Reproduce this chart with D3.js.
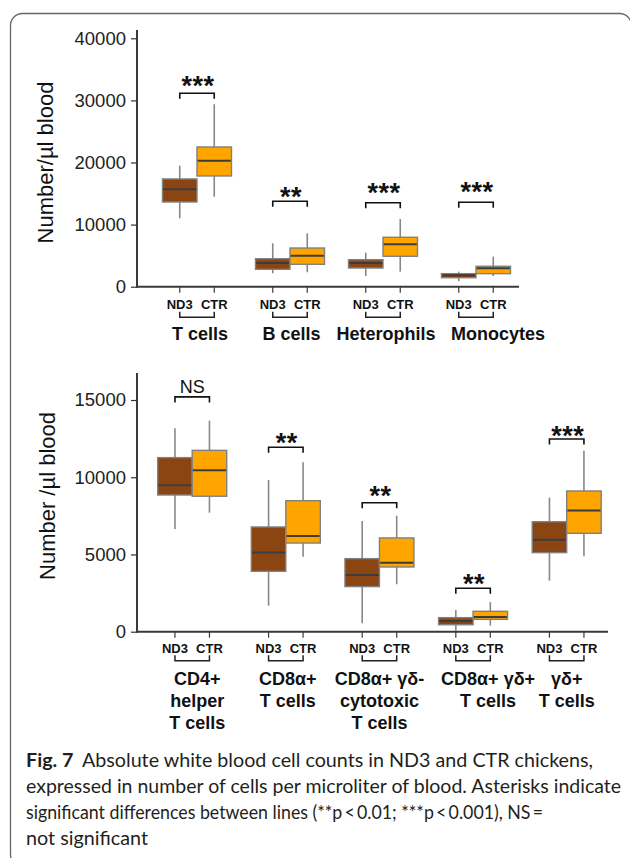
<!DOCTYPE html>
<html>
<head>
<meta charset="utf-8">
<script src="https://cdn.jsdelivr.net/npm/d3@7"></script>
<style>
  html, body { margin: 0; padding: 0; background: #fff; }
  svg { display: block; }
</style>
</head>
<body>
<svg id="chart" width="630" height="858"></svg>
<script>
// ---------------- DATA ----------------
const lineNames = ["ND3", "CTR"];

// Top panel
const topCategories = ["T cells", "B cells", "Heterophils", "Monocytes"];
// [whisker low, Q1, median, Q3, whisker high]
const topND3 = [
  [11020, 13640, 15690, 17350, 19490],
  [2160, 2800, 3820, 4510, 6990],
  [1720, 3010, 3820, 4350, 5480],
  [920, 1450, 1840, 2100, 2420]
];
const topCTR = [
  [14500, 17830, 20300, 22500, 29380],
  [2320, 3610, 4990, 6230, 8600],
  [2420, 4900, 6830, 7960, 10900],
  [1720, 2100, 2960, 3290, 4830]
];
const topSig = ["***", "**", "***", "***"];
const topBracketValue = [31150, 13760, 13530, 13600];
const topSigTextValue = [30800, 12950, 13670, 13770];
const topTicks = [0, 10000, 20000, 30000, 40000];

// Bottom panel
const bottomCategories = [
  ["CD4+", "helper", "T cells"],
  ["CD8\u03b1+", "T cells"],
  ["CD8\u03b1+ \u03b3\u03b4-", "cytotoxic", "T cells"],
  ["CD8\u03b1+ \u03b3\u03b4+", "T cells"],
  ["\u03b3\u03b4+", "T cells"]
];
const bottomND3 = [
  [6650, 8850, 9480, 11270, 13170],
  [1690, 3910, 5120, 6780, 9820],
  [540, 2920, 3670, 4730, 7170],
  [60, 450, 690, 910, 1400],
  [3300, 5120, 5960, 7120, 8680]
];
const bottomCTR = [
  [7710, 8770, 10450, 11740, 13660],
  [4860, 5740, 6200, 8480, 10970],
  [3070, 4190, 4470, 6070, 7510],
  [390, 800, 950, 1320, 1920],
  [4880, 6370, 7840, 9110, 11720]
];
const bottomSig = ["NS", "**", "**", "**", "***"];
const bottomBracketValue = [15200, 11940, 8350, 2810, 12480];
const bottomSigTextValue = [15475, 11660, 8200, 2520, 12100];
const bottomTicks = [0, 5000, 10000, 15000];

const captionBold = "Fig. 7";
const captionLines = [
  "Absolute white blood cell counts in ND3 and CTR chickens,",
  "expressed in number of cells per microliter of blood. Asterisks indicate",
  "significant differences between lines (**p\u2009<\u20090.01; ***p\u2009<\u20090.001), NS\u2009=",
  "not significant"
];

// ---------------- DRAW ----------------
const svg = d3.select("#chart");
const FONT = "'Liberation Sans', Arial, Helvetica, sans-serif";
const colors = { ND3: "#8B4513", CTR: "#FFA500" };

// frame
svg.append("rect")
  .attr("x", 10.5).attr("y", 13.5)
  .attr("width", 621).attr("height", 853)
  .attr("rx", 12).attr("ry", 12)
  .attr("fill", "none").attr("stroke", "#666").attr("stroke-width", 1.3);

function drawPanel(cfg) {
  const g = svg.append("g");
  const y = d3.scaleLinear().domain(cfg.domain).range([cfg.y0, cfg.y1]);
  const x = d3.scaleBand().domain(d3.range(cfg.n)).range(cfg.xRange).paddingInner(0).paddingOuter(0);
  const sub = d3.scalePoint().domain(lineNames).range([-cfg.half, cfg.half]);
  const cx = (i, ln) => x(i) + x.bandwidth() / 2 + sub(ln);
  const boxW = cfg.half * 2;

  // y axis
  const yAxis = d3.axisLeft(y).tickValues(cfg.ticks).tickSize(6).tickPadding(5).tickFormat(d3.format("d"));
  const ya = g.append("g").attr("transform", `translate(${cfg.axisX},0)`).call(yAxis);
  ya.select(".domain").remove();
  ya.selectAll(".tick line").attr("stroke", "#333").attr("stroke-width", 1.2);
  ya.selectAll(".tick text").attr("font-family", FONT).attr("font-size", 18.5).attr("fill", "#222");
  g.append("line")
    .attr("x1", cfg.axisX).attr("x2", cfg.axisX)
    .attr("y1", cfg.axisTop).attr("y2", y(0) + 1)
    .attr("stroke", "#3a3a3a").attr("stroke-width", 2);
  // x axis baseline
  g.append("line")
    .attr("x1", cfg.axisX - 1).attr("x2", cfg.axisRight)
    .attr("y1", y(0)).attr("y2", y(0))
    .attr("stroke", "#3a3a3a").attr("stroke-width", 2);

  // y label
  g.append("text")
    .attr("transform", `translate(${cfg.labelX},${cfg.labelY}) rotate(-90)`)
    .attr("text-anchor", "middle")
    .attr("font-family", FONT).attr("font-size", 22).attr("fill", "#111")
    .text(cfg.yLabel);

  const series = { ND3: cfg.nd3, CTR: cfg.ctr };
  for (let i = 0; i < cfg.n; i++) {
    lineNames.forEach(ln => {
      const c = cx(i, ln);
      g.append("line").attr("x1", c).attr("x2", c).attr("y1", y(0)).attr("y2", y(0) + 6)
        .attr("stroke", "#3a3a3a").attr("stroke-width", 1.2);
      g.append("text").attr("x", c).attr("y", cfg.tickLabelY)
        .attr("text-anchor", "middle").attr("font-family", FONT)
        .attr("font-weight", "bold").attr("font-size", 13).attr("fill", "#111")
        .text(ln);
    });
    lineNames.forEach(ln => {
      const s = series[ln][i];
      const c = cx(i, ln);
      g.append("line").attr("x1", c).attr("x2", c).attr("y1", y(s[0])).attr("y2", y(s[4]))
        .attr("stroke", "#888").attr("stroke-width", 1.6);
    });
    lineNames.forEach(ln => {
      const s = series[ln][i];
      const c = cx(i, ln);
      g.append("rect")
        .attr("x", c - boxW / 2).attr("y", y(s[3]))
        .attr("width", boxW).attr("height", y(s[1]) - y(s[3]))
        .attr("fill", colors[ln]).attr("stroke", "#808080").attr("stroke-width", 1.4);
      g.append("line").attr("x1", c - boxW / 2 + 0.7).attr("x2", c + boxW / 2 - 0.7)
        .attr("y1", y(s[2])).attr("y2", y(s[2]))
        .attr("stroke", "#3c3c3c").attr("stroke-width", 2);
    });

    const xa = cx(i, "ND3"), xb = cx(i, "CTR");
    const by = y(cfg.bracket[i]);
    g.append("path")
      .attr("d", `M${xa},${by + 5.5}V${by}H${xb}V${by + 5.5}`)
      .attr("fill", "none").attr("stroke", "#111").attr("stroke-width", 1.6);
    const isNS = cfg.sig[i] === "NS";
    g.append("text")
      .attr("x", (xa + xb) / 2 + (isNS ? 0 : 1)).attr("y", y(cfg.sigText[i]))
      .attr("text-anchor", "middle").attr("font-family", FONT)
      .attr("font-weight", isNS ? "normal" : "bold")
      .attr("font-size", isNS ? 18 : 27)
      .attr("letter-spacing", isNS ? 0 : 0.5)
      .attr("fill", "#111")
      .text(cfg.sig[i]);

    const ly = cfg.lowBracketY;
    g.append("path")
      .attr("d", `M${xa},${ly - 5.5}V${ly}H${xb}V${ly - 5.5}`)
      .attr("fill", "none").attr("stroke", "#222").attr("stroke-width", 1.5);

    const labels = Array.isArray(cfg.categories[i]) ? cfg.categories[i] : [cfg.categories[i]];
    const gc = x(i) + x.bandwidth() / 2 + cfg.labelShift[i];
    labels.forEach((t, k) => {
      g.append("text").attr("x", gc).attr("y", cfg.groupLabelY + k * 22)
        .attr("text-anchor", "middle").attr("font-family", FONT)
        .attr("font-weight", "bold").attr("font-size", 18).attr("fill", "#111")
        .text(t);
    });
  }
}

drawPanel({
  n: topCategories.length,
  categories: topCategories,
  nd3: topND3, ctr: topCTR,
  sig: topSig, bracket: topBracketValue, sigText: topSigTextValue,
  ticks: topTicks, domain: [0, 40000],
  y0: 286.7, y1: 38.3,
  xRange: [150.5, 522.5], half: 17.25,
  axisX: 137, axisTop: 30, axisRight: 519,
  tickLabelY: 309.3, lowBracketY: 317.3, groupLabelY: 339.5,
  labelShift: [3, 1.5, 3, 22],
  yLabel: "Number/\u00b5l blood", labelX: 53, labelY: 162.5
});

drawPanel({
  n: bottomCategories.length,
  categories: bottomCategories,
  nd3: bottomND3, ctr: bottomCTR,
  sig: bottomSig, bracket: bottomBracketValue, sigText: bottomSigTextValue,
  ticks: bottomTicks, domain: [0, 15000],
  y0: 631.7, y1: 400,
  xRange: [145.4, 613.5], half: 17.25,
  axisX: 137, axisTop: 373, axisRight: 608,
  tickLabelY: 653.3, lowBracketY: 660.7, groupLabelY: 685,
  labelShift: [5, 2, 0, 15, 0],
  yLabel: "Number /\u00b5l blood", labelX: 55, labelY: 496
});

// caption
const CAP_FONT = "Lato, 'Open Sans', sans-serif";
const capBase = [767, 793, 819, 845];
const capWidths = [567, 595, 517, 122];
captionLines.forEach((t, k) => {
  const txt = svg.append("text")
    .attr("x", 26).attr("y", capBase[k])
    .attr("font-family", CAP_FONT).attr("font-size", 18.5).attr("fill", "#231f20");
  if (k === 0) {
    txt.append("tspan").attr("font-weight", "bold").text(captionBold);
    txt.append("tspan").attr("dx", 8).text(t);
  } else {
    txt.text(t);
  }
  txt.attr("textLength", capWidths[k]).attr("lengthAdjust", "spacingAndGlyphs");
});
</script>
</body>
</html>
